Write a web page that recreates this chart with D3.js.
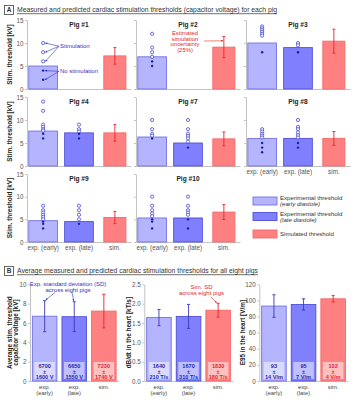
<!doctype html>
<html lang="en">
<head>
<meta charset="utf-8">
<style>
  body { margin: 0; background: #fff; }
  svg text { font-family: "Liberation Sans", Arial, sans-serif; }
  .ax path, .ax line { stroke: #c4c4c4; stroke-width: 1; }
  .ax text { fill: #555; font-size: 6.3px; }
</style>
</head>
<body>
<div id="fig"></div>
<script src="https://d3js.org/d3.v7.min.js"></script>
<script>
// ---- panel A: thresholds per pig [kV]
var pigNames    = ["Pig #1","Pig #2","Pig #3","Pig #4","Pig #7","Pig #8","Pig #9","Pig #10"];
var barCats     = ["exp. (early)","exp. (late)","sim."];
var earlyThr    = [5.0, 7.0, 10.0, 7.6, 6.3, 6.0, 4.7, 5.3];
var lateThr     = [null, null, 9.0, 7.2, 5.0, 6.0, 4.5, 5.3];
var simThr      = [7.2, 9.1, 10.4, 7.2, 5.9, 6.0, 5.4, 6.6];
var simErr      = [1.8, 2.3, 2.6, 1.8, 1.5, 1.5, 1.35, 1.65];
var earlyStim   = [[10,8,6],[12,9,8,7],[13.6,13.2,12.8,12.4,12,11.6],[14,12,9,8.5,8,7.7],[10,8,7,6.6],[8,7.5,7,6.6,6.2],[8,7,6.5,6,5.5,5],[10,8,7,6.3,5.7]];
var earlyNoStim = [[4,2],[6,5],[8],[7,6],[6],[5,4,3],[4.5,4,3],[5,4.5,3]];
var lateStim    = [[],[],[10,9.5],[9,8,7.5],[10,8,7,6.5,6,5.3],[10,8.5,8,7.3,6.7,6.2],[8,7,6,5],[10,8,7,6.5,6]];
var lateNoStim  = [[],[],[8],[7,6],[4],[5,4],[4],[5,3]];
var thrTicks    = [0,5,10,15];

// ---- panel B: averages over all eight pigs
var avgCats   = ["exp. (early)","exp. (late)","sim."];
var avgLabels = [["exp.","(early)"],["exp.","(late)"],["sim."]];
var voltMean  = [6.70, 6.65, 7.23];   // kV
var voltSD    = [1.60, 1.55, 1.74];
var dbdtMean  = [1.64, 1.67, 1.83];   // kT/s
var dbdtSD    = [0.21, 0.31, 0.18];
var e95Mean   = [93, 95, 102];        // V/m
var e95SD     = [14, 7, 4];
var voltTicks = [0,2,4,6,8,10];
var dbdtTicks = [0,0.5,1,1.5,2,2.5];
var e95Ticks  = [0,20,40,60,80,100,120];

var W = 355, H = 400;
var fill = ["#b4b4ff", "#8080ff", "#ff8080"];
var edge = ["#7272e2", "#4f4fd8", "#f46a6a"];
var errCol = ["#3a3ab8", "#3a3ab8", "#e4262c"];
var blueTxt = "#3232c0", redTxt = "#e4262c";

var svg = d3.select("#fig").append("svg").attr("width", W).attr("height", H);

var defs = svg.append("defs");
[["arB", blueTxt], ["arR", redTxt]].forEach(function(a) {
  defs.append("marker").attr("id", a[0]).attr("viewBox", "0 0 10 10")
    .attr("refX", 9).attr("refY", 5).attr("markerWidth", 4).attr("markerHeight", 4)
    .attr("orient", "auto")
    .append("path").attr("d", "M0,1 L10,5 L0,9 z").attr("fill", a[1]);
});

// panel headers
function header(y, letter, title, len) {
  svg.append("rect").attr("x", 4.5).attr("y", y - 4.5).attr("width", 9).attr("height", 9)
    .attr("fill", "none").attr("stroke", "#444").attr("stroke-width", 0.8);
  svg.append("text").attr("x", 9).attr("y", y).attr("dy", "0.35em").attr("text-anchor", "middle")
    .attr("font-size", 6.5).attr("font-weight", "bold").attr("fill", "#333").text(letter);
  svg.append("text").attr("x", 17).attr("y", y).attr("dy", "0.35em")
    .attr("font-size", 7).attr("fill", "#333").attr("text-decoration", "underline")
    .attr("textLength", len).attr("lengthAdjust", "spacingAndGlyphs").text(title);
}
header(10, "A", "Measured and predicted cardiac stimulation thresholds (capacitor voltage) for each pig", 260);
header(271, "B", "Average measured and predicted cardiac stimulation thresholds for all eight pigs", 241);

// ---- panel A subplots
var colX = [27, 136, 246], rowTop = [20, 97, 174], rowBot = [89, 166, 242], plotW = 104;

pigNames.forEach(function(name, i) {
  var r = Math.floor(i / 3), c = i % 3;
  var x = d3.scaleBand().domain(barCats).range([colX[c], colX[c] + plotW]).paddingInner(0.2).paddingOuter(0.05);
  var y = d3.scaleLinear().domain([0, 15]).range([rowBot[r], rowTop[r]]);
  var g = svg.append("g");
  var showX = (i >= 5);

  g.append("g").attr("class", "ax").attr("transform", "translate(" + colX[c] + ",0)")
    .call(d3.axisLeft(y).tickValues(thrTicks).tickSize(2).tickSizeOuter(0).tickPadding(1.5)
      .tickFormat(c === 0 ? d3.format("d") : ""));
  var xa = g.append("g").attr("class", "ax").attr("transform", "translate(0," + rowBot[r] + ")")
    .call(d3.axisBottom(x).tickSize(0).tickSizeOuter(0).tickPadding(4).tickFormat(showX ? null : ""));
  xa.selectAll("text").attr("font-size", 5.9).attr("fill", "#444");

  var vals = [earlyThr[i], lateThr[i], simThr[i]];
  vals.forEach(function(v, k) {
    if (v == null) return;
    var bw = k === 2 ? x.bandwidth() * 0.77 : x.bandwidth();
    var xc = x(barCats[k]) + x.bandwidth() / 2;
    g.append("rect").attr("x", xc - bw / 2).attr("y", y(v)).attr("width", bw).attr("height", y(0) - y(v))
      .attr("fill", fill[k]).attr("stroke", edge[k]).attr("stroke-width", 0.9);
  });

  // sim error bar
  var xs = x("sim.") + x.bandwidth() / 2;
  var e0 = y(simThr[i] - simErr[i]), e1 = y(simThr[i] + simErr[i]);
  g.append("line").attr("x1", xs).attr("x2", xs).attr("y1", e0).attr("y2", e1).attr("stroke", errCol[2]).attr("stroke-width", 0.9);
  [e0, e1].forEach(function(ey) {
    g.append("line").attr("x1", xs - 1.5).attr("x2", xs + 1.5).attr("y1", ey).attr("y2", ey).attr("stroke", errCol[2]).attr("stroke-width", 0.9);
  });

  // individual stimulation trials
  [[earlyStim[i], earlyNoStim[i], barCats[0]], [lateStim[i], lateNoStim[i], barCats[1]]].forEach(function(s) {
    var cx = x(s[2]) + x.bandwidth() / 2;
    g.selectAll(null).data(s[0]).enter().append("circle")
      .attr("cx", cx).attr("cy", function(d) { return y(d); }).attr("r", 1.6)
      .attr("fill", "#fff").attr("stroke", "#3c3cd0").attr("stroke-width", 0.75);
    g.selectAll(null).data(s[1]).enter().append("circle")
      .attr("cx", cx).attr("cy", function(d) { return y(d); }).attr("r", 1.2)
      .attr("fill", "#1c1ca0");
  });

  g.append("text").attr("x", colX[c] + plotW / 2).attr("y", rowTop[r] + 4.5).attr("dy", "0.35em")
    .attr("text-anchor", "middle").attr("font-size", 6.6).attr("font-weight", "bold").attr("fill", "#222").text(name);

  if (c === 0) {
    g.append("text").attr("transform", "translate(10," + (rowTop[r] + rowBot[r]) / 2 + ") rotate(-90)")
      .attr("text-anchor", "middle").attr("dy", "0.35em").attr("font-size", 6.4).attr("font-weight", "bold")
      .attr("fill", "#222").text("Stim. threshold [kV]");
  }

  // annotations
  if (i === 0) {
    var cx0 = x(barCats[0]) + x.bandwidth() / 2;
    var tS = [59, y(9.3)], tN = [59, y(3.85)];
    earlyStim[0].forEach(function(d) {
      g.append("line").attr("x1", tS[0]).attr("y1", tS[1]).attr("x2", cx0 + 2.2).attr("y2", y(d))
        .attr("stroke", blueTxt).attr("stroke-width", 0.6).attr("marker-end", "url(#arB)");
    });
    earlyNoStim[0].forEach(function(d) {
      g.append("line").attr("x1", tN[0]).attr("y1", tN[1]).attr("x2", cx0 + 1.8).attr("y2", y(d))
        .attr("stroke", blueTxt).attr("stroke-width", 0.6).attr("marker-end", "url(#arB)");
    });
    g.append("text").attr("x", tS[0] + 1).attr("y", tS[1]).attr("dy", "0.35em").attr("font-size", 6).attr("fill", blueTxt).text("Stimulation");
    g.append("text").attr("x", tN[0] + 1).attr("y", tN[1]).attr("dy", "0.35em").attr("font-size", 6).attr("fill", blueTxt).text("No stimulation");
  }
  if (i === 1) {
    ["Estimated", "simulation", "uncertainty", "(25%)"].forEach(function(t, j) {
      g.append("text").attr("x", 185).attr("y", 33 + j * 5.6).attr("dy", "0.35em").attr("text-anchor", "middle")
        .attr("font-size", 5.9).attr("fill", redTxt).text(t);
    });
    g.append("line").attr("x1", 204).attr("y1", 41).attr("x2", xs - 0.6).attr("y2", y(simThr[1] + simErr[1] * 0.6))
      .attr("stroke", redTxt).attr("stroke-width", 0.6).attr("marker-end", "url(#arR)");
  }
});

// legend
var legY = [201, 216.5, 234];
var legTxt = [["Experimental threshold", "(early diastole)"], ["Experimental threshold", "(late diastole)"], ["Simulated threshold"]];
legTxt.forEach(function(t, k) {
  svg.append("rect").attr("x", 253).attr("y", legY[k] - 4).attr("width", 24).attr("height", 8)
    .attr("fill", fill[k]).attr("stroke", edge[k]).attr("stroke-width", 0.9);
  t.forEach(function(s, j) {
    svg.append("text").attr("x", 280).attr("y", legY[k] + (t.length === 1 ? 0 : (j === 0 ? -3 : 3.3)))
      .attr("dy", "0.35em").attr("font-size", 6.1).attr("fill", "#333")
      .attr("font-style", j === 1 ? "italic" : "normal").text(s);
  });
});

// ---- panel B subplots
var colB = [30, 144.3, 259.3], bTop = 284.3, bBot = 381, bW = 88.5;
var panelsB = [
  { mean: voltMean, sd: voltSD, ticks: voltTicks, fmt: d3.format("d"), lab: ["Average stim. threshold", "capacitor voltage [kV]"], labX: 10,
    txt: function(k) { return [Math.round(voltMean[k] * 1000), "\u00b1", Math.round(voltSD[k] * 1000) + " V"]; } },
  { mean: dbdtMean, sd: dbdtSD, ticks: dbdtTicks, fmt: d3.format(".1f"), lab: ["dB/dt in the heart [kT/s]"], labX: 128.5,
    txt: function(k) { return [Math.round(dbdtMean[k] * 1000), "\u00b1", Math.round(dbdtSD[k] * 1000) + " T/s"]; } },
  { mean: e95Mean, sd: e95SD, ticks: e95Ticks, fmt: d3.format("d"), lab: ["E95 in the heart [V/m]"], labX: 242.5,
    txt: function(k) { return [e95Mean[k], "\u00b1", e95SD[k] + " V/m"]; } }
];

panelsB.forEach(function(p, c) {
  var x = d3.scaleBand().domain(avgCats).range([colB[c], colB[c] + bW]).paddingInner(0.17).paddingOuter(0.08);
  var y = d3.scaleLinear().domain([0, p.ticks[p.ticks.length - 1]]).range([bBot, bTop]);
  var g = svg.append("g");
  g.append("g").attr("class", "ax").attr("transform", "translate(" + colB[c] + ",0)")
    .call(d3.axisLeft(y).tickValues(p.ticks).tickSize(2).tickSizeOuter(0).tickPadding(1.5).tickFormat(p.fmt));
  g.append("g").attr("class", "ax").attr("transform", "translate(0," + bBot + ")")
    .call(d3.axisBottom(x).tickSize(0).tickSizeOuter(0).tickFormat(""));

  avgCats.forEach(function(cat, k) {
    var x0 = x(cat), bw = x.bandwidth(), xc = x0 + bw / 2;
    var v = p.mean[k], s = p.sd[k];
    g.append("rect").attr("x", x0).attr("y", y(v)).attr("width", bw).attr("height", bBot - y(v))
      .attr("fill", fill[k]).attr("stroke", edge[k]).attr("stroke-width", 0.9);
    g.append("line").attr("x1", xc).attr("x2", xc).attr("y1", y(v - s)).attr("y2", y(v + s))
      .attr("stroke", errCol[k]).attr("stroke-width", 0.9);
    [v - s, v + s].forEach(function(e) {
      g.append("line").attr("x1", xc - 1.6).attr("x2", xc + 1.6).attr("y1", y(e)).attr("y2", y(e))
        .attr("stroke", errCol[k]).attr("stroke-width", 0.9);
    });
    // value box
    g.append("rect").attr("x", x0 + 2).attr("y", bBot - 19).attr("width", bw - 4).attr("height", 17)
      .attr("fill", "#fff").attr("fill-opacity", 0.5);
    p.txt(k).forEach(function(t, j) {
      g.append("text").attr("x", xc).attr("y", bBot - 15 + j * 5.6).attr("dy", "0.35em").attr("text-anchor", "middle")
        .attr("font-size", 5.6).attr("font-weight", "bold").attr("fill", k === 2 ? redTxt : "#2a2aa8").text(t);
    });
    avgLabels[k].forEach(function(t, j) {
      g.append("text").attr("x", xc).attr("y", bBot + 5.5 + j * 6).attr("dy", "0.35em").attr("text-anchor", "middle")
        .attr("font-size", 5.9).attr("fill", "#444").text(t);
    });
  });

  p.lab.forEach(function(t, j) {
    var lx = p.labX + j * 6;
    g.append("text").attr("transform", "translate(" + lx + "," + (bTop + bBot) / 2 + ") rotate(-90)")
      .attr("text-anchor", "middle").attr("dy", "0.35em").attr("font-size", 6.4).attr("font-weight", "bold")
      .attr("fill", "#222").text(t);
  });

  if (c === 0) {
    ["Exp. standard deviation (SD)", "across eight pigs"].forEach(function(t, j) {
      g.append("text").attr("x", 68).attr("y", 283.5 + j * 6).attr("dy", "0.35em").attr("text-anchor", "middle")
        .attr("font-size", 6).attr("fill", blueTxt).text(t);
    });
    [[55, 0], [72, 1]].forEach(function(a) {
      var xc = x(avgCats[a[1]]) + x.bandwidth() / 2;
      g.append("line").attr("x1", a[0]).attr("y1", 292.5).attr("x2", xc + (a[1] === 0 ? 1 : -0.5))
        .attr("y2", y(p.mean[a[1]] + p.sd[a[1]]) - 0.8)
        .attr("stroke", blueTxt).attr("stroke-width", 0.6).attr("marker-end", "url(#arB)");
    });
  }
  if (c === 1) {
    ["Sim. SD", "across eight pigs"].forEach(function(t, j) {
      g.append("text").attr("x", 201.5).attr("y", 287.3 + j * 6).attr("dy", "0.35em").attr("text-anchor", "middle")
        .attr("font-size", 6).attr("fill", redTxt).text(t);
    });
    var xc3 = x("sim.") + x.bandwidth() / 2;
    g.append("line").attr("x1", 211).attr("y1", 297).attr("x2", xc3 - 1.5).attr("y2", y(p.mean[2] + p.sd[2]) - 0.5)
      .attr("stroke", redTxt).attr("stroke-width", 0.6).attr("marker-end", "url(#arR)");
  }
});
</script>
</body>
</html>
